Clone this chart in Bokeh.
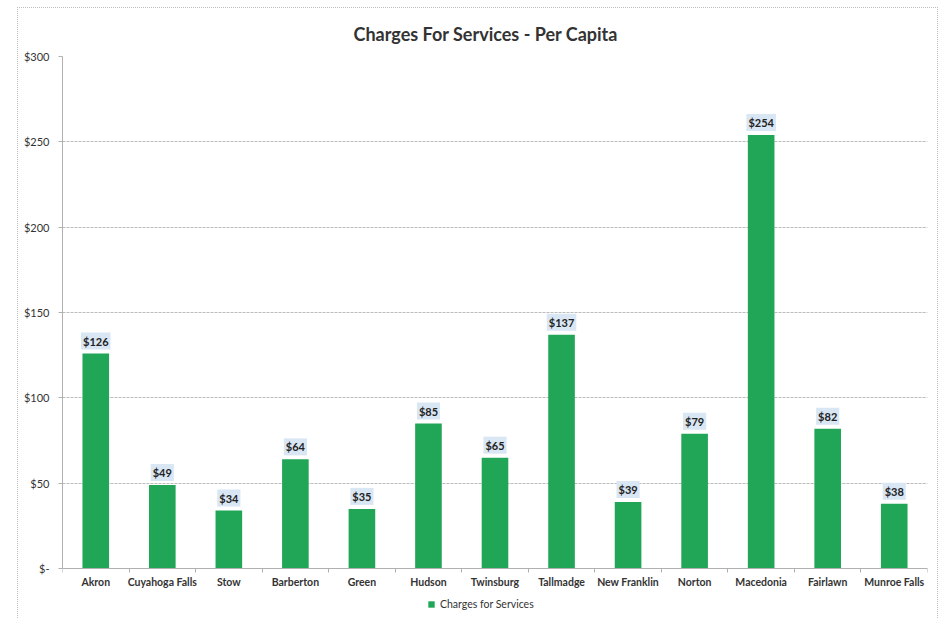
from bokeh.plotting import figure
from bokeh.models import (ColumnDataSource, FixedTicker, Legend, LegendItem, Range1d, Title)
from bokeh.core.properties import value
from bokeh.embed import file_html
from bokeh.resources import INLINE

cities = ["Akron", "Cuyahoga Falls", "Stow", "Barberton", "Green", "Hudson", "Twinsburg",
          "Tallmadge", "New Franklin", "Norton", "Macedonia", "Fairlawn", "Munroe Falls"]
charges = [126, 49, 34, 64, 35, 85, 65, 137, 39, 79, 254, 82, 38]
y_ticks = [0, 50, 100, 150, 200, 250, 300]
y_tick_labels = ["$-", "$50", "$100", "$150", "$200", "$250", "$300"]
series_name = "Charges for Services"
title_text = "Charges For Services - Per Capita"

FONT = "Lato"
GREEN = "#21a657"

xs = [i + 0.5 for i in range(len(cities))]
src = ColumnDataSource(dict(x=xs, y=charges, city=cities,
                            lbl=["$%d" % v for v in charges]))

# frame runs down to the bottom of the canvas; the value axis spans 0..300 only
p = figure(width=921, height=611, output_backend="svg", toolbar_location=None,
           x_range=Range1d(0, len(cities)), y_range=Range1d(-29.8, 300),
           min_border_left=44, min_border_right=12, min_border_top=46, min_border_bottom=0)
p.margin = (7, 0, 0, 17)
p.styles = {"border-left": "1px dotted #bdbdbd", "border-top": "1px dotted #bdbdbd",
            "border-right": "1px dotted #bdbdbd"}
p.title = Title(text=title_text, align="left", text_font=FONT, text_font_size="18px",
                text_font_style="bold", text_color="#333333", offset=291, standoff=24)
p.outline_line_color = None
p.background_fill_color = "white"
p.border_fill_color = "white"

bars = p.vbar(x="x", top="y", width=0.4, source=src, fill_color=GREEN, line_color=None)

p.text(x="x", y="y", text="lbl", source=src, text_align="center",
       text_baseline="bottom", y_offset=-4, text_font=value(FONT), text_font_size="11px",
       text_font_style="bold", text_color="#222222",
       background_fill_color="#d9e6f3", padding=2)

# axes
p.yaxis.ticker = FixedTicker(ticks=y_ticks)
p.yaxis.bounds = (0, 300)
p.yaxis.major_label_overrides = {t: l for t, l in zip(y_ticks, y_tick_labels)}
p.yaxis.minor_tick_line_color = None
p.yaxis.axis_line_color = "#b0b0b0"
p.yaxis.major_tick_line_color = "#b0b0b0"
p.yaxis.major_tick_out = 4
p.yaxis.major_tick_in = 0
p.yaxis.major_label_standoff = 9
p.yaxis.major_label_text_font = FONT
p.yaxis.major_label_text_font_size = "11px"
p.yaxis.major_label_text_color = "#333333"

p.xaxis.fixed_location = 0
p.xaxis.ticker = FixedTicker(ticks=xs, minor_ticks=list(range(len(cities) + 1)))
p.xaxis.major_label_overrides = {x: c for x, c in zip(xs, cities)}
p.xaxis.major_tick_line_color = None
p.xaxis.minor_tick_line_color = "#b0b0b0"
p.xaxis.minor_tick_out = 4
p.xaxis.minor_tick_in = 0
p.xaxis.axis_line_color = "#b0b0b0"
p.xaxis.major_label_standoff = 1
p.xaxis.major_label_text_font = FONT
p.xaxis.major_label_text_font_size = "10.5px"
p.xaxis.major_label_text_font_style = "bold"
p.xaxis.major_label_text_color = "#333333"

p.xgrid.grid_line_color = None
p.ygrid.ticker = FixedTicker(ticks=y_ticks)
p.ygrid.grid_line_color = "#bcbcbc"
p.ygrid.grid_line_dash = "3 1"

legend = Legend(items=[LegendItem(label=series_name, renderers=[bars])],
                location=(365, 9), orientation="horizontal",
                label_text_font=FONT, label_text_font_size="10.5px", label_text_color="#333333",
                glyph_width=8, glyph_height=8, border_line_color=None,
                background_fill_alpha=0, padding=0, margin=0, label_height=12)
p.add_layout(legend, "center")

open("out.html", "w").write(file_html(p, INLINE))
